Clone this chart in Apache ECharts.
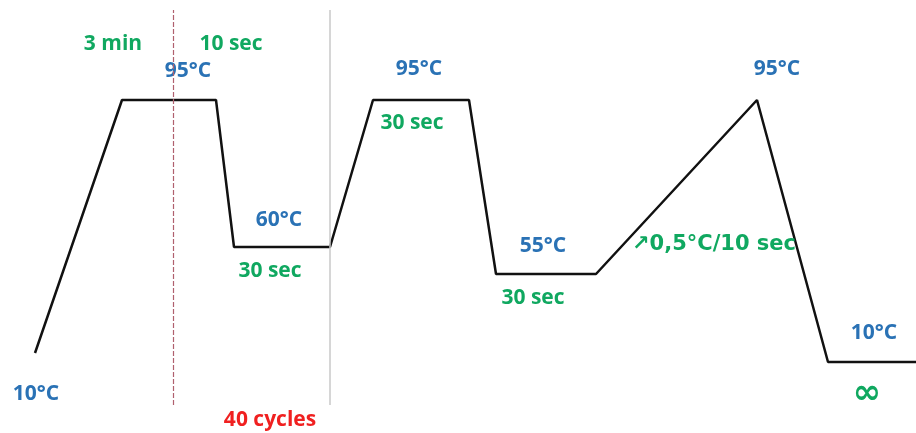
<!DOCTYPE html>
<html><head><meta charset="utf-8">
<script src="https://cdn.jsdelivr.net/npm/echarts@6/dist/echarts.min.js"></script>
<style>html,body{margin:0;padding:0;background:#fff}#c{width:916px;height:433px}</style>
</head><body><div id="c"></div>
<script>
// Thermal profile (schematic): time position and schematic height
const profileTime  = [35, 122, 216, 234, 330, 373, 469, 496, 596, 757, 828, 916];
const profileLevel = [80, 333, 333, 186, 186, 333, 333, 159, 159, 333, 71, 71];

// Annotations: text, kind, anchor (time, level)
const noteText  = ['3 min', '10 sec', '95°C', '95°C', '30 sec', '60°C', '30 sec', '55°C', '30 sec', '↗0,5°C/10 sec', '95°C', '10°C', '10°C', '∞', '40 cycles'];
const noteKind  = ['time', 'time', 'temp', 'temp', 'time', 'temp', 'time', 'temp', 'time', 'time', 'temp', 'temp', 'temp', 'time', 'cycle'];
const noteTime  = [113, 231, 188, 419, 412, 279, 270, 543, 533, 714, 777, 36, 874, 867, 270];
const noteLevel = [389, 389, 362, 364, 310, 213, 162, 187, 135, 188, 364, 39, 100, 39, 13];

// Cycle boundaries
const cycleStart = 173;
const cycleEnd = 330;

const kindColor = { time: '#10a860', temp: '#2a72b5', cycle: '#f02020' };

const chart = echarts.init(document.getElementById('c'));
chart.setOption({
  animation: false,
  grid: { left: 0, right: 0, top: 0, bottom: 0 },
  xAxis: { type: 'value', min: 0, max: 916, show: false },
  yAxis: { type: 'value', min: 0, max: 433, show: false },
  series: [
    {
      type: 'line',
      data: profileTime.map((t, i) => [t, profileLevel[i]]),
      symbol: 'none',
      lineStyle: { color: '#111', width: 2.5 },
      z: 3,
      markLine: {
        silent: true,
        symbol: 'none',
        label: { show: false },
        data: [
          [{ coord: [cycleStart, 28], lineStyle: { color: '#b0606e', type: [5, 2], width: 1.2 } }, { coord: [cycleStart, 423] }],
          [{ coord: [cycleEnd, 28], lineStyle: { color: '#c8c8c8', type: 'solid', width: 1.5 } }, { coord: [cycleEnd, 423] }]
        ]
      }
    },
    {
      type: 'scatter',
      symbolSize: 0,
      itemStyle: { opacity: 1 },
      data: noteText.map((s, i) => ({
        value: [noteTime[i], noteLevel[i]],
        label: {
          show: true,
          position: 'inside',
          formatter: s,
          color: kindColor[noteKind[i]],
          opacity: 1,
          fontSize: s === '∞' ? 34 : 21,
          fontWeight: 'bold',
          fontFamily: s === '∞' || s.startsWith('↗') ? 'DejaVu Sans' : 'Open Sans'
        }
      })),
      z: 4
    }
  ]
});
</script></body></html>
